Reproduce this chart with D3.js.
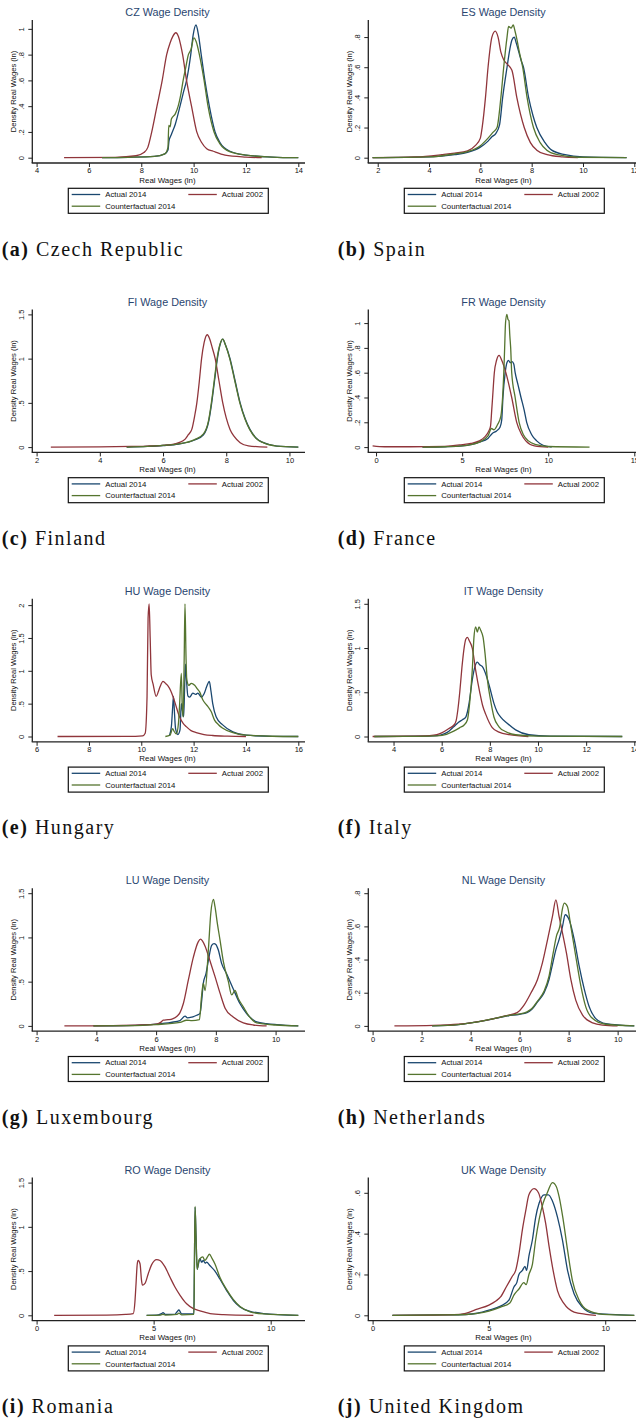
<!DOCTYPE html>
<html><head><meta charset="utf-8">
<script src="https://cdn.jsdelivr.net/npm/d3@7"></script>
<style>body{margin:0;background:#fff}svg{display:block}</style>
</head><body>
<svg id="chart" width="636" height="1420"></svg>
<script>
// ---------------- data ----------------
const codes = ["CZ","ES","FI","FR","HU","IT","LU","NL","RO","UK"];
const letters = ["a","b","c","d","e","f","g","h","i","j"];
const countryNames = ["Czech Republic","Spain","Finland","France","Hungary","Italy","Luxembourg","Netherlands","Romania","United Kingdom"];
const seriesNames = ["Actual 2014","Actual 2002","Counterfactual 2014"];
const xTicks = [[4,6,8,10,12,14],[2,4,6,8,10,12],[2,4,6,8,10],[0,5,10,15],[6,8,10,12,14,16],[4,6,8,10,12,14],[2,4,6,8,10],[0,2,4,6,8,10],[0,5,10],[0,5,10]];
const yTicks = [[0,.2,.4,.6,.8,1],[0,.2,.4,.6,.8],[0,.5,1,1.5],[0,.2,.4,.6,.8,1],[0,.5,1,1.5,2],[0,.5,1,1.5],[0,.5,1,1.5],[0,.2,.4,.6,.8],[0,.5,1,1.5],[0,.2,.4,.6]];

// CZ
const czA14 = [[6.5,0],[7.5,0.003],[8.5,0.01],[8.9,0.03],[9.02,0.06],[9.06,0.13],[9.15,0.18],[9.3,0.26],[9.48,0.4],[9.6,0.5],[9.73,0.6],[9.89,0.8],[9.98,0.95],[10.09,1.03],[10.18,0.96],[10.29,0.8],[10.43,0.6],[10.6,0.4],[10.82,0.2],[11.0,0.12],[11.39,0.05],[12,0.02],[13,0.005],[14,0]];
const czA02 = [[5.05,0],[7,0.003],[7.8,0.015],[8.1,0.04],[8.25,0.08],[8.4,0.2],[8.6,0.4],[8.8,0.6],[8.97,0.8],[9.1,0.89],[9.2,0.94],[9.32,0.97],[9.42,0.94],[9.5,0.88],[9.58,0.8],[9.73,0.6],[9.92,0.4],[10.12,0.2],[10.3,0.12],[10.5,0.07],[10.75,0.05],[11.2,0.02],[12,0.005],[12.6,0]];
const czC14 = [[6.5,0],[7.5,0.003],[8.5,0.01],[8.9,0.03],[9.02,0.08],[9.05,0.25],[9.1,0.24],[9.15,0.3],[9.3,0.34],[9.41,0.4],[9.5,0.48],[9.6,0.6],[9.7,0.7],[9.8,0.8],[9.9,0.84],[10.01,0.93],[10.1,0.9],[10.22,0.8],[10.4,0.6],[10.55,0.4],[10.78,0.2],[11.0,0.11],[11.4,0.045],[12,0.02],[13,0.005],[14,0]];
// ES
const esA14 = [[1.8,0],[4,0.005],[5,0.02],[5.5,0.035],[6,0.07],[6.3,0.11],[6.46,0.14],[6.6,0.16],[6.75,0.22],[6.87,0.4],[7.04,0.6],[7.15,0.72],[7.23,0.78],[7.32,0.8],[7.4,0.76],[7.5,0.7],[7.6,0.64],[7.68,0.6],[7.88,0.4],[8.05,0.28],[8.2,0.2],[8.52,0.1],[8.78,0.05],[9.3,0.02],[10,0.005],[11.7,0]];
const esA02 = [[1.8,0],[3.5,0.005],[4.5,0.02],[5.0,0.03],[5.5,0.045],[5.8,0.08],[6.0,0.13],[6.07,0.2],[6.2,0.4],[6.3,0.6],[6.45,0.8],[6.58,0.84],[6.69,0.8],[6.8,0.7],[6.91,0.65],[7.05,0.62],[7.23,0.58],[7.42,0.4],[7.71,0.2],[7.95,0.1],[8.2,0.05],[8.6,0.02],[9.2,0.005],[9.8,0]];
const esC14 = [[1.8,0],[4,0.005],[5,0.025],[5.5,0.04],[6,0.08],[6.3,0.13],[6.5,0.17],[6.65,0.2],[6.8,0.4],[6.91,0.6],[7.04,0.8],[7.1,0.87],[7.2,0.86],[7.28,0.88],[7.35,0.84],[7.43,0.78],[7.52,0.7],[7.65,0.6],[7.82,0.4],[8.07,0.2],[8.33,0.1],[8.59,0.05],[9.0,0.02],[9.8,0.003],[11.7,0]];
// FI
const fiA14 = [[4.85,0],[5.5,0.008],[6,0.018],[6.5,0.035],[7.0,0.08],[7.28,0.14],[7.45,0.3],[7.54,0.5],[7.63,0.75],[7.72,1.0],[7.8,1.15],[7.89,1.22],[7.98,1.15],[8.12,1.0],[8.28,0.75],[8.44,0.5],[8.6,0.32],[8.75,0.2],[8.95,0.1],[9.18,0.05],[9.6,0.012],[10.28,0]];
const fiA02 = [[2.45,0],[4,0.003],[5,0.008],[5.5,0.012],[6,0.02],[6.3,0.03],[6.5,0.05],[6.7,0.09],[6.8,0.14],[6.91,0.2],[7.0,0.35],[7.07,0.5],[7.15,0.75],[7.22,1.0],[7.3,1.18],[7.4,1.27],[7.48,1.22],[7.56,1.12],[7.65,1.0],[7.77,0.75],[7.89,0.5],[8.0,0.33],[8.12,0.2],[8.25,0.12],[8.44,0.05],[8.7,0.015],[9.3,0]];
const fiC14 = [[4.85,0],[5.5,0.008],[6,0.019],[6.5,0.037],[7.0,0.085],[7.28,0.15],[7.44,0.3],[7.53,0.5],[7.62,0.75],[7.71,1.0],[7.8,1.16],[7.89,1.22],[7.97,1.16],[8.11,1.0],[8.27,0.75],[8.43,0.5],[8.59,0.32],[8.74,0.2],[8.94,0.1],[9.17,0.05],[9.6,0.012],[10.28,0]];
// FR
const frA14 = [[2.7,0],[4,0.003],[5,0.01],[5.5,0.02],[6,0.04],[6.5,0.07],[6.75,0.11],[7.0,0.13],[7.2,0.16],[7.3,0.22],[7.37,0.4],[7.5,0.6],[7.6,0.68],[7.69,0.70],[7.8,0.68],[7.9,0.69],[8.0,0.67],[8.08,0.6],[8.25,0.5],[8.42,0.4],[8.6,0.3],[8.75,0.2],[9.04,0.1],[9.33,0.05],[9.7,0.015],[10.2,0]];
const frA02 = [[-0.2,0.01],[0.5,0.003],[2,0.003],[4,0.006],[5,0.02],[5.5,0.03],[6,0.05],[6.3,0.08],[6.55,0.13],[6.65,0.17],[6.72,0.3],[6.77,0.4],[6.87,0.6],[7.0,0.7],[7.15,0.74],[7.3,0.7],[7.54,0.6],[7.88,0.4],[8.17,0.2],[8.46,0.1],[8.7,0.05],[9.2,0.01],[10,0]];
const frC14 = [[2.7,0],[4,0.003],[5,0.01],[5.5,0.02],[6,0.04],[6.5,0.09],[6.7,0.15],[6.85,0.14],[7.05,0.18],[7.25,0.25],[7.35,0.4],[7.42,0.6],[7.47,0.8],[7.52,1.0],[7.6,1.07],[7.66,1.03],[7.72,1.02],[7.77,0.9],[7.82,0.8],[7.88,0.6],[8.08,0.4],[8.31,0.2],[8.56,0.1],[8.85,0.05],[9.3,0.02],[10,0.005],[12.4,0]];
// HU
const huA14 = [[11.08,0.02],[11.15,0.15],[11.2,0.45],[11.23,0.61],[11.27,0.35],[11.31,0.12],[11.4,0.03],[11.48,0.1],[11.53,0.5],[11.58,0.38],[11.62,0.3],[11.66,0.8],[11.69,1.1],[11.73,0.85],[11.78,0.62],[11.85,0.6],[11.97,0.66],[12.08,0.64],[12.16,0.66],[12.3,0.6],[12.4,0.65],[12.5,0.76],[12.6,0.84],[12.66,0.7],[12.73,0.5],[12.86,0.3],[13.1,0.18],[13.5,0.07],[14.0,0.02],[15,0.003],[16,0]];
const huA02 = [[6.8,0],[9.5,0.001],[10.05,0.01],[10.15,0.05],[10.22,0.6],[10.26,1.8],[10.3,2.02],[10.34,1.5],[10.38,0.94],[10.45,0.8],[10.57,0.61],[10.65,0.68],[10.72,0.76],[10.83,0.84],[10.95,0.8],[11.02,0.77],[11.12,0.7],[11.21,0.61],[11.3,0.5],[11.46,0.3],[11.6,0.2],[11.72,0.15],[11.9,0.09],[12.1,0.06],[12.4,0.03],[12.73,0.015],[13.3,0.005],[14,0]];
const huC14 = [[10.92,0],[11.1,0.02],[11.2,0.12],[11.25,0.08],[11.34,0.04],[11.42,0.2],[11.46,0.45],[11.53,0.96],[11.57,0.4],[11.6,0.3],[11.64,1.2],[11.67,2.02],[11.71,1.2],[11.74,0.86],[11.82,0.78],[11.91,0.81],[12.04,0.78],[12.15,0.72],[12.23,0.68],[12.35,0.56],[12.45,0.5],[12.54,0.46],[12.67,0.38],[12.8,0.25],[12.95,0.18],[13.1,0.13],[13.5,0.06],[14,0.02],[15,0.004],[16,0]];
// IT
const itA14 = [[3.2,0],[5,0.003],[5.8,0.01],[6.1,0.03],[6.3,0.06],[6.5,0.11],[6.7,0.16],[6.86,0.19],[7.0,0.22],[7.07,0.28],[7.14,0.38],[7.27,0.64],[7.38,0.79],[7.48,0.84],[7.58,0.81],[7.69,0.79],[7.85,0.69],[7.99,0.56],[8.17,0.375],[8.3,0.28],[8.45,0.22],[8.72,0.15],[9.07,0.075],[9.62,0.02],[10.5,0.005],[13.5,0]];
const itA02 = [[3.13,0],[4.5,0.003],[5.5,0.01],[5.8,0.02],[6.0,0.04],[6.3,0.09],[6.51,0.13],[6.6,0.18],[6.67,0.3],[6.75,0.5],[6.84,0.78],[6.93,1.0],[7.0,1.1],[7.07,1.12],[7.15,1.08],[7.27,1.0],[7.41,0.75],[7.58,0.5],[7.7,0.35],[7.83,0.25],[8.1,0.1],[8.38,0.05],[8.8,0.02],[9.6,0]];
const itC14 = [[3.2,0],[5,0.002],[5.8,0.008],[6.2,0.025],[6.5,0.06],[6.75,0.1],[6.93,0.13],[7.07,0.19],[7.16,0.375],[7.27,0.75],[7.34,1.12],[7.41,1.24],[7.48,1.18],[7.55,1.24],[7.62,1.2],[7.72,1.12],[7.8,0.94],[7.9,0.64],[8.03,0.41],[8.17,0.22],[8.38,0.11],[8.65,0.056],[9.07,0.02],[10,0.005],[13.5,0]];
// LU
const luA14 = [[3.9,0],[5,0.004],[6,0.02],[6.5,0.04],[6.8,0.06],[6.97,0.11],[7.05,0.09],[7.2,0.1],[7.36,0.12],[7.47,0.14],[7.53,0.3],[7.58,0.48],[7.67,0.59],[7.75,0.74],[7.86,0.91],[7.94,0.93],[8.0,0.92],[8.08,0.86],[8.19,0.71],[8.36,0.59],[8.58,0.42],[8.81,0.25],[9.03,0.14],[9.37,0.045],[9.7,0.026],[10.04,0.015],[10.76,0]];
const luA02 = [[2.93,0],[4.5,0.003],[5.5,0.01],[6.0,0.02],[6.15,0.04],[6.24,0.064],[6.4,0.07],[6.55,0.08],[6.7,0.11],[6.8,0.15],[6.91,0.25],[7.08,0.52],[7.25,0.78],[7.41,0.95],[7.49,0.98],[7.55,0.96],[7.64,0.9],[7.8,0.74],[7.97,0.56],[8.14,0.37],[8.31,0.2],[8.58,0.1],[8.92,0.034],[9.25,0.01],[9.7,0]];
const luC14 = [[3.9,0],[5,0.003],[6,0.015],[6.8,0.04],[7.02,0.064],[7.2,0.06],[7.45,0.07],[7.52,0.33],[7.58,0.48],[7.64,0.4],[7.75,0.86],[7.83,1.27],[7.92,1.43],[7.97,1.35],[8.05,1.16],[8.14,0.97],[8.25,0.73],[8.42,0.5],[8.53,0.35],[8.64,0.4],[8.75,0.31],[8.92,0.215],[9.09,0.12],[9.37,0.034],[10,0.01],[10.76,0]];
// NL
const nlA14 = [[2.43,0],[3.5,0.008],[4.0,0.018],[4.5,0.03],[5.0,0.045],[5.5,0.06],[6.0,0.07],[6.3,0.08],[6.5,0.1],[6.73,0.145],[7.0,0.2],[7.2,0.28],[7.34,0.37],[7.48,0.46],[7.61,0.52],[7.75,0.6],[7.86,0.67],[8.02,0.64],[8.23,0.52],[8.43,0.36],[8.64,0.22],[8.84,0.115],[9.11,0.044],[9.52,0.014],[10.68,0]];
const nlA02 = [[0.89,0],[2.5,0.003],[3.5,0.01],[4.0,0.018],[4.5,0.03],[4.95,0.044],[5.4,0.06],[5.9,0.08],[6.18,0.125],[6.45,0.195],[6.73,0.28],[6.93,0.38],[7.14,0.52],[7.34,0.66],[7.48,0.76],[7.61,0.66],[7.75,0.56],[7.91,0.44],[8.09,0.28],[8.29,0.155],[8.57,0.065],[8.98,0.018],[9.39,0.005],[10,0]];
const nlC14 = [[2.43,0],[3.5,0.008],[4.0,0.018],[4.5,0.03],[5.0,0.046],[5.5,0.062],[6.0,0.072],[6.3,0.085],[6.5,0.105],[6.73,0.15],[7.0,0.21],[7.2,0.3],[7.37,0.44],[7.5,0.54],[7.64,0.6],[7.74,0.7],[7.82,0.74],[7.95,0.72],[8.09,0.6],[8.29,0.42],[8.5,0.24],[8.7,0.115],[8.98,0.044],[9.5,0.01],[10.68,0]];
// RO
const roA14 = [[4.7,0],[5.2,0.005],[5.34,0.02],[5.4,0.03],[5.5,0.01],[5.9,0.01],[6.0,0.04],[6.08,0.06],[6.2,0.015],[6.72,0.015],[6.74,0.5],[6.77,1.22],[6.81,0.9],[6.86,0.52],[6.93,0.6],[6.98,0.64],[7.05,0.6],[7.12,0.62],[7.2,0.59],[7.26,0.6],[7.41,0.56],[7.62,0.5],[7.83,0.41],[8.12,0.28],[8.4,0.17],[8.69,0.094],[9.12,0.045],[9.69,0.02],[11.18,0]];
const roA02 = [[0.75,0],[3,0.003],[3.8,0.01],[4.13,0.02],[4.2,0.15],[4.24,0.32],[4.3,0.58],[4.34,0.62],[4.42,0.58],[4.48,0.4],[4.52,0.34],[4.63,0.36],[4.77,0.47],[4.91,0.57],[5.13,0.63],[5.27,0.62],[5.48,0.55],[5.7,0.43],[5.91,0.32],[6.13,0.226],[6.41,0.13],[6.7,0.075],[6.98,0.05],[7.41,0.02],[7.98,0.008],[9.26,0]];
const roC14 = [[4.7,0],[5.3,0.003],[5.4,0.01],[5.5,0.003],[6.0,0.01],[6.08,0.025],[6.2,0.005],[6.72,0.01],[6.74,0.5],[6.77,1.23],[6.81,0.9],[6.86,0.52],[6.93,0.62],[6.98,0.64],[7.1,0.66],[7.19,0.62],[7.3,0.66],[7.38,0.69],[7.5,0.64],[7.62,0.58],[7.83,0.43],[8.12,0.29],[8.4,0.18],[8.69,0.1],[9.12,0.04],[9.7,0.015],[11.18,0]];
// UK
const ukA14 = [[0.85,0],[3,0.002],[4.0,0.004],[4.5,0.01],[5.0,0.025],[5.5,0.045],[5.86,0.074],[6.08,0.14],[6.2,0.16],[6.29,0.2],[6.44,0.22],[6.55,0.24],[6.62,0.22],[6.72,0.29],[6.87,0.37],[7.01,0.48],[7.16,0.55],[7.37,0.59],[7.56,0.59],[7.73,0.56],[7.95,0.48],[8.16,0.37],[8.38,0.22],[8.66,0.106],[9.02,0.04],[9.45,0.011],[11.25,0]];
const ukA02 = [[0.86,0],[2.5,0.001],[3.5,0.003],[4.0,0.01],[4.5,0.03],[5.0,0.05],[5.3,0.07],[5.5,0.09],[5.75,0.14],[6.0,0.19],[6.15,0.22],[6.29,0.3],[6.44,0.42],[6.58,0.51],[6.72,0.59],[6.94,0.62],[7.13,0.6],[7.3,0.53],[7.44,0.45],[7.59,0.335],[7.76,0.22],[7.95,0.12],[8.23,0.057],[8.66,0.016],[9.17,0.005],[9.6,0]];
const ukC14 = [[0.85,0],[3,0.002],[4.0,0.004],[4.5,0.009],[5.0,0.02],[5.5,0.04],[5.9,0.06],[6.08,0.1],[6.3,0.13],[6.5,0.16],[6.6,0.15],[6.72,0.2],[6.87,0.25],[7.01,0.37],[7.16,0.47],[7.33,0.55],[7.51,0.6],[7.73,0.65],[7.9,0.63],[8.02,0.58],[8.19,0.47],[8.38,0.32],[8.59,0.17],[8.88,0.074],[9.24,0.025],[9.89,0.005],[11.25,0]];

const seriesData = [
  [czA14, czA02, czC14],[esA14, esA02, esC14],[fiA14, fiA02, fiC14],[frA14, frA02, frC14],[huA14, huA02, huC14],
  [itA14, itA02, itC14],[luA14, luA02, luC14],[nlA14, nlA02, nlC14],[roA14, roA02, roC14],[ukA14, ukA02, ukC14]
];

// ---------------- drawing ----------------
const colors = ["#1a476f", "#90353b", "#55752f"];
const titleColor = "#2a4670";
const sans = "'Liberation Sans', Arial, sans-serif";
const svg = d3.select("#chart");
const colW = 336, rowH = 289.4;
const L = { axX: 32.3, axYTop: 20, axY: 163, axXEnd: 305, inL: 36.6, inR: 298.3, inTop: 25, inBot: 157.7 };
const fmt = d => d === 0 ? "0" : String(d).replace(/^0\./, ".");

codes.forEach((code, i) => {
  const col = i % 2, row = Math.floor(i / 2);
  const g = svg.append("g").attr("transform", `translate(${col * colW},${row * rowH})`);
  const series = seriesData[i];
  const allX = series.flat().map(p => p[0]).concat(xTicks[i]);
  const allY = series.flat().map(p => p[1]).concat(yTicks[i]);
  const x = d3.scaleLinear().domain(d3.extent(allX)).range([L.inL, L.inR]);
  const y = d3.scaleLinear().domain([0, d3.max(allY)]).range([L.inBot, L.inTop]);

  // title
  g.append("text").attr("x", (L.inL + L.inR) / 2).attr("y", 16.3)
    .attr("text-anchor", "middle").attr("font-family", sans)
    .attr("font-size", 10.8).attr("fill", titleColor).text(`${code} Wage Density`);

  // axis lines
  g.append("line").attr("x1", L.axX).attr("x2", L.axX).attr("y1", L.axYTop).attr("y2", L.axY)
    .attr("stroke", "#222").attr("stroke-width", 1.3);
  g.append("line").attr("x1", L.axX - 0.6).attr("x2", L.axXEnd).attr("y1", L.axY).attr("y2", L.axY)
    .attr("stroke", "#222").attr("stroke-width", 1.3);

  // y axis
  const ya = g.append("g").attr("transform", `translate(${L.axX},0)`)
    .call(d3.axisLeft(y).tickValues(yTicks[i]).tickSize(4).tickFormat(fmt));
  ya.select(".domain").remove();
  ya.selectAll("line").attr("stroke", "#222").attr("stroke-width", 1);
  ya.selectAll("text").attr("x", null).attr("dy", null)
    .attr("transform", "translate(-8.5,0) rotate(-90)").attr("text-anchor", "middle")
    .attr("font-family", sans).attr("font-size", 7.5).attr("fill", "#111");

  // x axis
  const xa = g.append("g").attr("transform", `translate(0,${L.axY})`)
    .call(d3.axisBottom(x).tickValues(xTicks[i]).tickSize(4).tickFormat(d3.format("d")));
  xa.select(".domain").remove();
  xa.selectAll("line").attr("stroke", "#222").attr("stroke-width", 1);
  xa.selectAll("text").attr("y", 5).attr("dy", "0.71em")
    .attr("font-family", sans).attr("font-size", 7.5).attr("fill", "#111");

  // axis titles
  g.append("text").attr("x", (L.inL + L.inR) / 2).attr("y", 182.5).attr("text-anchor", "middle")
    .attr("font-family", sans).attr("font-size", 7.9).attr("fill", "#111")
    .text("Real Wages (ln)");
  g.append("text").attr("transform", `translate(16,${(L.axYTop + L.axY) / 2}) rotate(-90)`)
    .attr("text-anchor", "middle").attr("font-family", sans)
    .attr("font-size", 7.6).attr("fill", "#111").text("Density Real Wages (ln)");

  // lines
  const line = d3.line().x(d => x(d[0])).y(d => y(d[1])).curve(d3.curveMonotoneX);
  [0, 1, 2].forEach(k => {
    g.append("path").datum(series[k]).attr("d", line).attr("fill", "none")
      .attr("stroke", colors[k]).attr("stroke-width", 1.3).attr("stroke-linejoin", "round");
  });

  // legend
  const lg = g.append("g");
  lg.append("rect").attr("x", 68.3).attr("y", 188.3).attr("width", 200).attr("height", 25)
    .attr("fill", "#fff").attr("stroke", "#111").attr("stroke-width", 1.2);
  const legPos = [[71.7, 194.5], [188.3, 194.5], [71.7, 206.2]];
  seriesNames.forEach((nm, k) => {
    const [lx, ly] = legPos[k];
    lg.append("line").attr("x1", lx).attr("x2", lx + 28.5).attr("y1", ly).attr("y2", ly)
      .attr("stroke", colors[k]).attr("stroke-width", 1.3);
    lg.append("text").attr("x", lx + 33.5).attr("y", ly + 2.8)
      .attr("font-family", sans).attr("font-size", 7.8).attr("fill", "#111")
      .text(nm);
  });

  // caption
  const cap = g.append("text").attr("x", 1.7).attr("y", 255.5)
    .attr("font-family", "'Liberation Serif', 'Times New Roman', serif").attr("font-size", 20)
    .attr("letter-spacing", 1.5).attr("fill", "#111");
  cap.append("tspan").attr("font-weight", "bold").text(`(${letters[i]})`);
  cap.append("tspan").text(` ${countryNames[i]}`);
});
</script>
</body></html>
